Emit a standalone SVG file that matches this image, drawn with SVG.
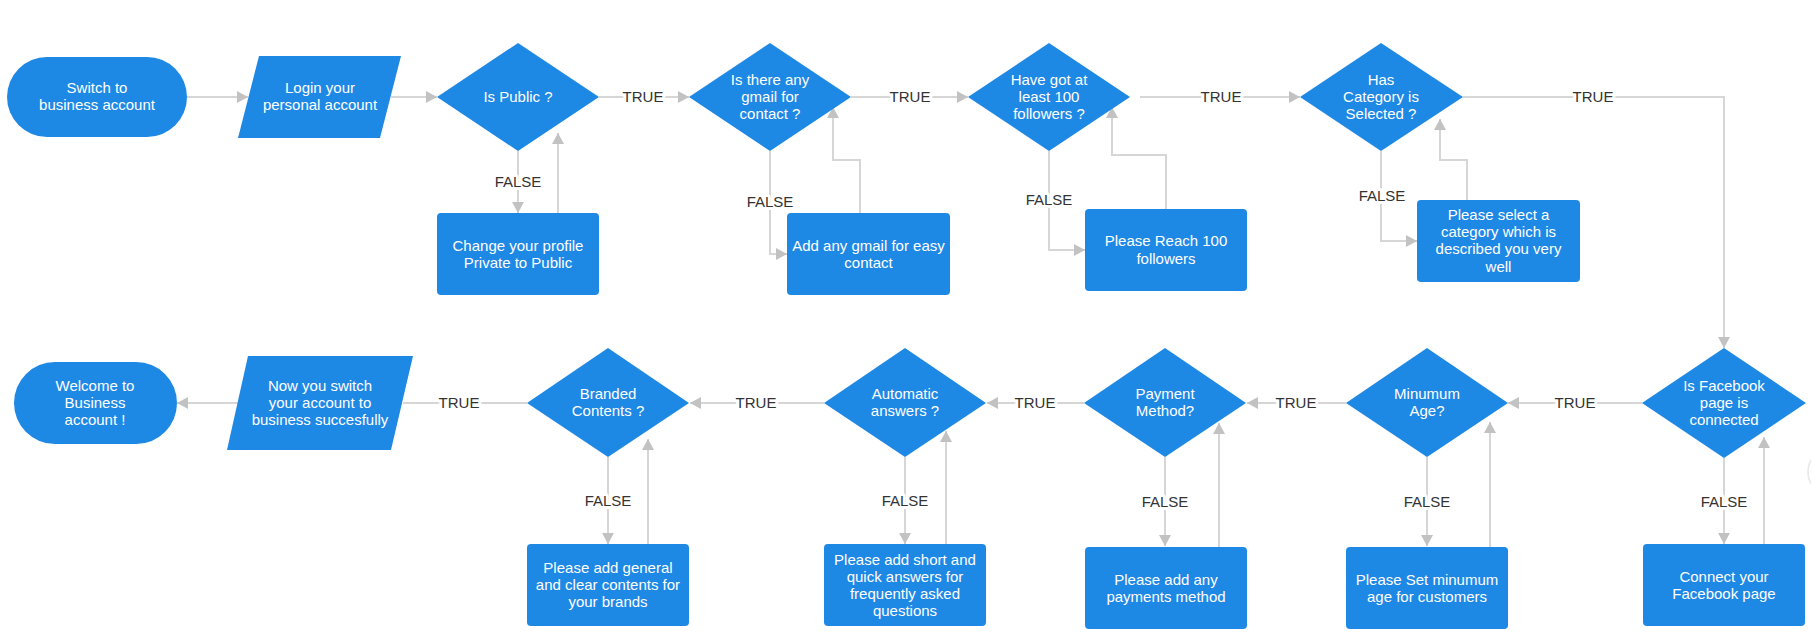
<svg xmlns="http://www.w3.org/2000/svg" width="1811" height="636" viewBox="0 0 1811 636">
  <style>
    .node { fill: #1e88e5; }
    .nt { font-family: "Liberation Sans", Arial, sans-serif; font-size: 15px; fill: #ffffff; text-anchor: middle; }
    .edge { fill: none; stroke: #d6d6d6; stroke-width: 2; }
    .lbl { font-family: "Liberation Sans", Arial, sans-serif; font-size: 15px; fill: #333333; text-anchor: middle; stroke: #ffffff; stroke-width: 6px; paint-order: stroke; stroke-linejoin: round; }
  </style>
  <defs>
    <marker id="arrow" viewBox="0 0 11 12" markerWidth="11" markerHeight="12" refX="11" refY="6" orient="auto" markerUnits="userSpaceOnUse">
      <path d="M0,0 L11,6 L0,12 z" fill="#c2c2c2"/>
    </marker>
  </defs>
  <rect width="1811" height="636" fill="#ffffff"/>

  <!-- connectors -->
  <g id="connectors">
    <path class="edge" d="M187,97 L248,97" marker-end="url(#arrow)"/>
    <path class="edge" d="M391,97 L437,97" marker-end="url(#arrow)"/>
    <path class="edge" d="M518,151 L518,213" marker-end="url(#arrow)"/>
    <path class="edge" d="M558,213 L558,133" marker-end="url(#arrow)"/>
    <path class="edge" d="M599,97 L689,97" marker-end="url(#arrow)"/>
    <path class="edge" d="M770,151 L770,254 L787,254" marker-end="url(#arrow)"/>
    <path class="edge" d="M860,213 L860,160 L833,160 L833,107" marker-end="url(#arrow)"/>
    <path class="edge" d="M851,97 L968,97" marker-end="url(#arrow)"/>
    <path class="edge" d="M1049,151 L1049,250 L1085,250" marker-end="url(#arrow)"/>
    <path class="edge" d="M1166,209 L1166,155 L1112,155 L1112,107" marker-end="url(#arrow)"/>
    <path class="edge" d="M1140,97 L1300,97" marker-end="url(#arrow)"/>
    <path class="edge" d="M1381,151 L1381,241 L1417,241" marker-end="url(#arrow)"/>
    <path class="edge" d="M1467,200 L1467,160 L1440,160 L1440,119" marker-end="url(#arrow)"/>
    <path class="edge" d="M1463,97 L1724,97 L1724,348" marker-end="url(#arrow)"/>
    <path class="edge" d="M1724,458 L1724,544" marker-end="url(#arrow)"/>
    <path class="edge" d="M1764,544 L1764,437" marker-end="url(#arrow)"/>
    <path class="edge" d="M1642,403 L1508,403" marker-end="url(#arrow)"/>
    <path class="edge" d="M1427,457 L1427,546" marker-end="url(#arrow)"/>
    <path class="edge" d="M1490,547 L1490,422" marker-end="url(#arrow)"/>
    <path class="edge" d="M1346,403 L1247,403" marker-end="url(#arrow)"/>
    <path class="edge" d="M1165,457 L1165,546" marker-end="url(#arrow)"/>
    <path class="edge" d="M1219,547 L1219,423" marker-end="url(#arrow)"/>
    <path class="edge" d="M1084,403 L987,403" marker-end="url(#arrow)"/>
    <path class="edge" d="M905,457 L905,544" marker-end="url(#arrow)"/>
    <path class="edge" d="M946,544 L946,431" marker-end="url(#arrow)"/>
    <path class="edge" d="M824,403 L690,403" marker-end="url(#arrow)"/>
    <path class="edge" d="M608,457 L608,544" marker-end="url(#arrow)"/>
    <path class="edge" d="M648,544 L648,439" marker-end="url(#arrow)"/>
    <path class="edge" d="M527,403 L403,403"/>
    <path class="edge" d="M248,403 L177,403" marker-end="url(#arrow)"/>

    <text class="lbl" x="518" y="187">FALSE</text>
    <text class="lbl" x="643" y="102">TRUE</text>
    <text class="lbl" x="770" y="207">FALSE</text>
    <text class="lbl" x="910" y="102">TRUE</text>
    <text class="lbl" x="1049" y="205">FALSE</text>
    <text class="lbl" x="1221" y="102">TRUE</text>
    <text class="lbl" x="1382" y="201">FALSE</text>
    <text class="lbl" x="1593" y="102">TRUE</text>
    <text class="lbl" x="1724" y="507">FALSE</text>
    <text class="lbl" x="1575" y="408">TRUE</text>
    <text class="lbl" x="1427" y="507">FALSE</text>
    <text class="lbl" x="1296" y="408">TRUE</text>
    <text class="lbl" x="1165" y="507">FALSE</text>
    <text class="lbl" x="1035" y="408">TRUE</text>
    <text class="lbl" x="905" y="506">FALSE</text>
    <text class="lbl" x="756" y="408">TRUE</text>
    <text class="lbl" x="608" y="506">FALSE</text>
    <text class="lbl" x="459" y="408">TRUE</text>
  </g>

  <!-- row 1 -->
  <g id="start">
    <rect class="node" x="7" y="57" width="180" height="80" rx="40"/>
    <text class="nt" x="97" y="93">Switch to</text>
    <text class="nt" x="97" y="110">business account</text>
  </g>
  <g id="login">
    <polygon class="node" points="259,56 401,56 380,138 238,138"/>
    <text class="nt" x="320" y="93">Login your</text>
    <text class="nt" x="320" y="110">personal account</text>
  </g>
  <g id="is-public">
    <polygon class="node" points="518,43 599,97 518,151 437,97"/>
    <text class="nt" x="518" y="102">Is Public ?</text>
  </g>
  <g id="make-public">
    <rect class="node" x="437" y="213" width="162" height="82" rx="4"/>
    <text class="nt" x="518" y="251">Change your profile</text>
    <text class="nt" x="518" y="268">Private to Public</text>
  </g>
  <g id="has-gmail">
    <polygon class="node" points="770,43 851,97 770,151 689,97"/>
    <text class="nt" x="770" y="85">Is there any</text>
    <text class="nt" x="770" y="102">gmail for</text>
    <text class="nt" x="770" y="119">contact ?</text>
  </g>
  <g id="add-gmail">
    <rect class="node" x="787" y="213" width="163" height="82" rx="4"/>
    <text class="nt" x="868.5" y="251">Add any gmail for easy</text>
    <text class="nt" x="868.5" y="268">contact</text>
  </g>
  <g id="followers">
    <polygon class="node" points="1049,43 1130,97 1049,151 968,97"/>
    <text class="nt" x="1049" y="85">Have got at</text>
    <text class="nt" x="1049" y="102">least 100</text>
    <text class="nt" x="1049" y="119">followers ?</text>
  </g>
  <g id="reach-followers">
    <rect class="node" x="1085" y="209" width="162" height="82" rx="4"/>
    <text class="nt" x="1166" y="246">Please Reach 100</text>
    <text class="nt" x="1166" y="263.5">followers</text>
  </g>
  <g id="category">
    <polygon class="node" points="1381,43 1463,97 1381,151 1300,97"/>
    <text class="nt" x="1381" y="85">Has</text>
    <text class="nt" x="1381" y="102">Category is</text>
    <text class="nt" x="1381" y="119">Selected ?</text>
  </g>
  <g id="select-category">
    <rect class="node" x="1417" y="200" width="163" height="82" rx="4"/>
    <text class="nt" x="1498.5" y="220">Please select a</text>
    <text class="nt" x="1498.5" y="237">category which is</text>
    <text class="nt" x="1498.5" y="254">described you very</text>
    <text class="nt" x="1498.5" y="271.5">well</text>
  </g>

  <!-- row 2 -->
  <g id="facebook">
    <polygon class="node" points="1724,348 1806,403 1724,458 1642,403"/>
    <text class="nt" x="1724" y="391">Is Facebook</text>
    <text class="nt" x="1724" y="408">page is</text>
    <text class="nt" x="1724" y="425">connected</text>
  </g>
  <g id="connect-facebook">
    <rect class="node" x="1643" y="544" width="162" height="82" rx="4"/>
    <text class="nt" x="1724" y="582">Connect your</text>
    <text class="nt" x="1724" y="599">Facebook page</text>
  </g>
  <g id="min-age">
    <polygon class="node" points="1427,348 1508,403 1427,457 1346,403"/>
    <text class="nt" x="1427" y="399">Minumum</text>
    <text class="nt" x="1427" y="416">Age?</text>
  </g>
  <g id="set-age">
    <rect class="node" x="1346" y="547" width="162" height="82" rx="4"/>
    <text class="nt" x="1427" y="585">Please Set minumum</text>
    <text class="nt" x="1427" y="602">age for customers</text>
  </g>
  <g id="payment">
    <polygon class="node" points="1165,348 1246,403 1165,457 1084,403"/>
    <text class="nt" x="1165" y="399">Payment</text>
    <text class="nt" x="1165" y="416">Method?</text>
  </g>
  <g id="add-payment">
    <rect class="node" x="1085" y="547" width="162" height="82" rx="4"/>
    <text class="nt" x="1166" y="585">Please add any</text>
    <text class="nt" x="1166" y="602">payments method</text>
  </g>
  <g id="auto-answers">
    <polygon class="node" points="905,348 986,403 905,457 824,403"/>
    <text class="nt" x="905" y="399">Automatic</text>
    <text class="nt" x="905" y="416">answers ?</text>
  </g>
  <g id="add-answers">
    <rect class="node" x="824" y="544" width="162" height="82" rx="4"/>
    <text class="nt" x="905" y="565">Please add short and</text>
    <text class="nt" x="905" y="582">quick answers for</text>
    <text class="nt" x="905" y="599">frequently asked</text>
    <text class="nt" x="905" y="616">questions</text>
  </g>
  <g id="branded">
    <polygon class="node" points="608,348 689,403 608,457 527,403"/>
    <text class="nt" x="608" y="399">Branded</text>
    <text class="nt" x="608" y="416">Contents ?</text>
  </g>
  <g id="add-brand-content">
    <rect class="node" x="527" y="544" width="162" height="82" rx="4"/>
    <text class="nt" x="608" y="573">Please add general</text>
    <text class="nt" x="608" y="590">and clear contents for</text>
    <text class="nt" x="608" y="607">your brands</text>
  </g>
  <g id="switched">
    <polygon class="node" points="248,356 413,356 391,450 227,450"/>
    <text class="nt" x="320" y="391">Now you switch</text>
    <text class="nt" x="320" y="408">your account to</text>
    <text class="nt" x="320" y="425">business succesfully</text>
  </g>
  <g id="welcome">
    <rect class="node" x="14" y="362" width="163" height="82" rx="41"/>
    <text class="nt" x="95" y="391">Welcome to</text>
    <text class="nt" x="95" y="408">Business</text>
    <text class="nt" x="95" y="425">account !</text>
  </g>

  <!-- edge control, mostly off-canvas -->
  <circle cx="1832" cy="472" r="24" fill="#ffffff" stroke="#e8e8e8" stroke-width="1.5"/>
</svg>
